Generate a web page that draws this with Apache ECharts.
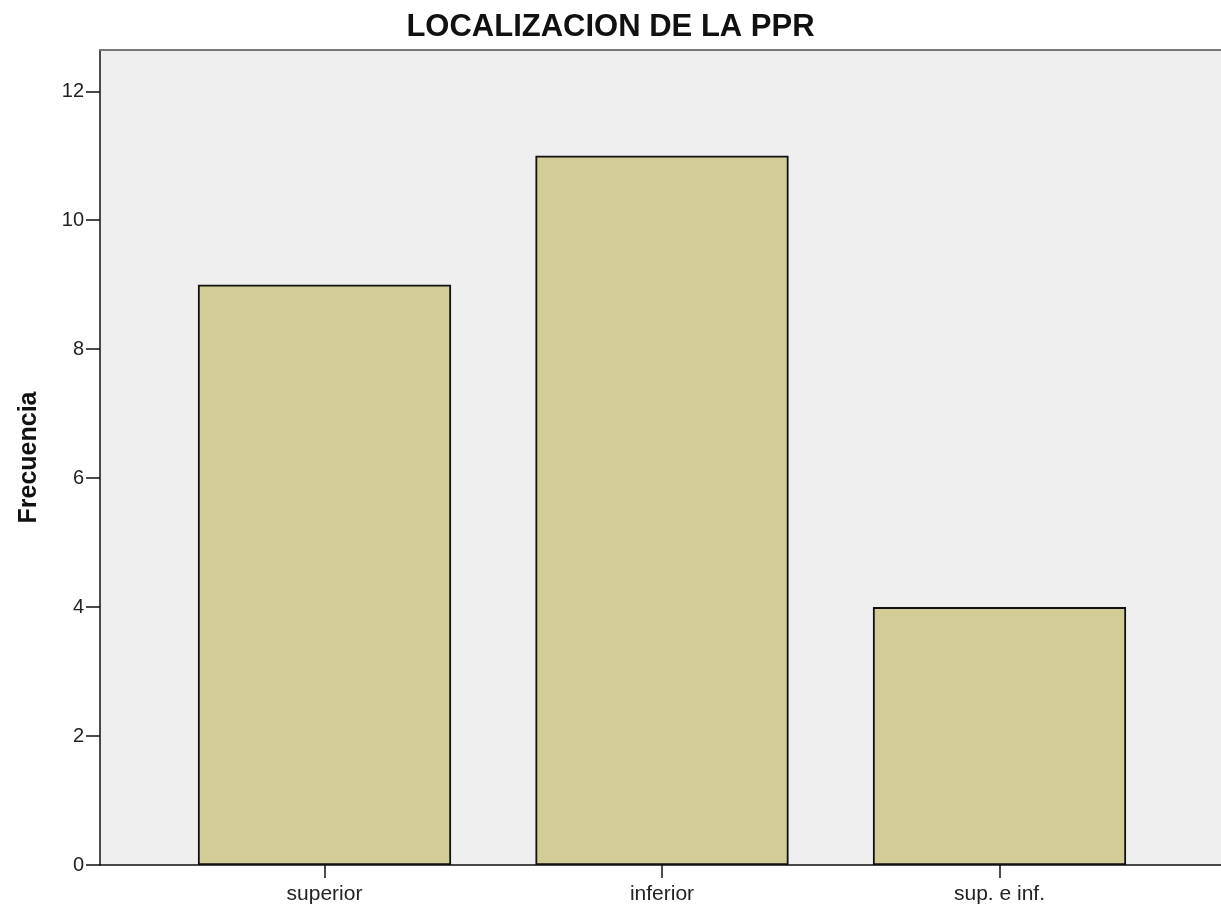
<!DOCTYPE html>
<html>
<head>
<meta charset="utf-8">
<title>LOCALIZACION DE LA PPR</title>
<script src="https://cdn.jsdelivr.net/npm/echarts@6/dist/echarts.min.js"></script>
<style>
  html, body { margin: 0; padding: 0; background: #ffffff; }
  #chart { width: 1221px; height: 906px; }
</style>
</head>
<body>
<div id="chart"></div>
<script>
// Frequency of PPR location by category
const categories = ['superior', 'inferior', 'sup. e inf.'];
const frecuencia = [9, 11, 4];
const yTicks = [0, 2, 4, 6, 8, 10, 12];
const yMax = 12.64;

const FONT = "'Liberation Sans', Arial, sans-serif";

const chart = echarts.init(document.getElementById('chart'), null, { renderer: 'canvas' });

chart.setOption({
  animation: false,
  backgroundColor: '#ffffff',
  title: {
    text: 'LOCALIZACION DE LA PPR',
    left: 'center',
    top: 7,
    textStyle: { fontFamily: FONT, fontSize: 31, fontWeight: 'bold', color: '#111111' }
  },
  grid: [
    // plot frame: background, left axis, bottom line, top rule
    { left: 100, right: 0, top: 50, bottom: 41, show: true, backgroundColor: '#efefef', borderWidth: 0 },
    // bar area: categories spaced inside the frame
    { left: 155.75, width: 1012.5, top: 50, bottom: 41 }
  ],
  xAxis: [
    {
      gridIndex: 0, type: 'value', min: 0, max: 1, position: 'bottom',
      axisLine: { show: true, lineStyle: { color: '#111111', width: 1.5 } },
      axisTick: { show: false }, axisLabel: { show: false }, splitLine: { show: false }
    },
    {
      gridIndex: 1, type: 'category', data: categories, position: 'bottom',
      axisLine: { show: false },
      axisTick: { show: true, alignWithLabel: true, length: 13, lineStyle: { color: '#111111', width: 1.5 } },
      axisLabel: { show: true, margin: 19, fontFamily: FONT, fontSize: 21, color: '#222222' },
      splitLine: { show: false }
    },
    {
      gridIndex: 0, type: 'value', min: 0, max: 1, position: 'top',
      axisLine: { show: true, lineStyle: { color: '#777777', width: 2 } },
      axisTick: { show: false }, axisLabel: { show: false }, splitLine: { show: false }
    }
  ],
  yAxis: [
    {
      gridIndex: 0, type: 'value', min: 0, max: yMax,
      name: 'Frecuencia', nameLocation: 'middle', nameGap: 58, nameRotate: 90,
      nameTextStyle: { fontFamily: FONT, fontSize: 25, fontWeight: 'bold', color: '#111111' },
      axisLine: { show: true, lineStyle: { color: '#111111', width: 1.5 } },
      axisTick: { show: true, length: 14, customValues: yTicks, lineStyle: { color: '#111111', width: 1.5 } },
      axisLabel: { show: true, margin: 16, customValues: yTicks, fontFamily: FONT, fontSize: 20, color: '#222222' },
      splitLine: { show: false }
    },
    {
      gridIndex: 1, type: 'value', min: 0, max: yMax, show: false
    }
  ],
  series: [
    {
      type: 'bar',
      xAxisIndex: 1,
      yAxisIndex: 1,
      data: frecuencia,
      barWidth: '75%',
      itemStyle: { color: '#d2cd97', borderColor: '#111111', borderWidth: 1.8 }
    }
  ]
});
</script>
</body>
</html>
